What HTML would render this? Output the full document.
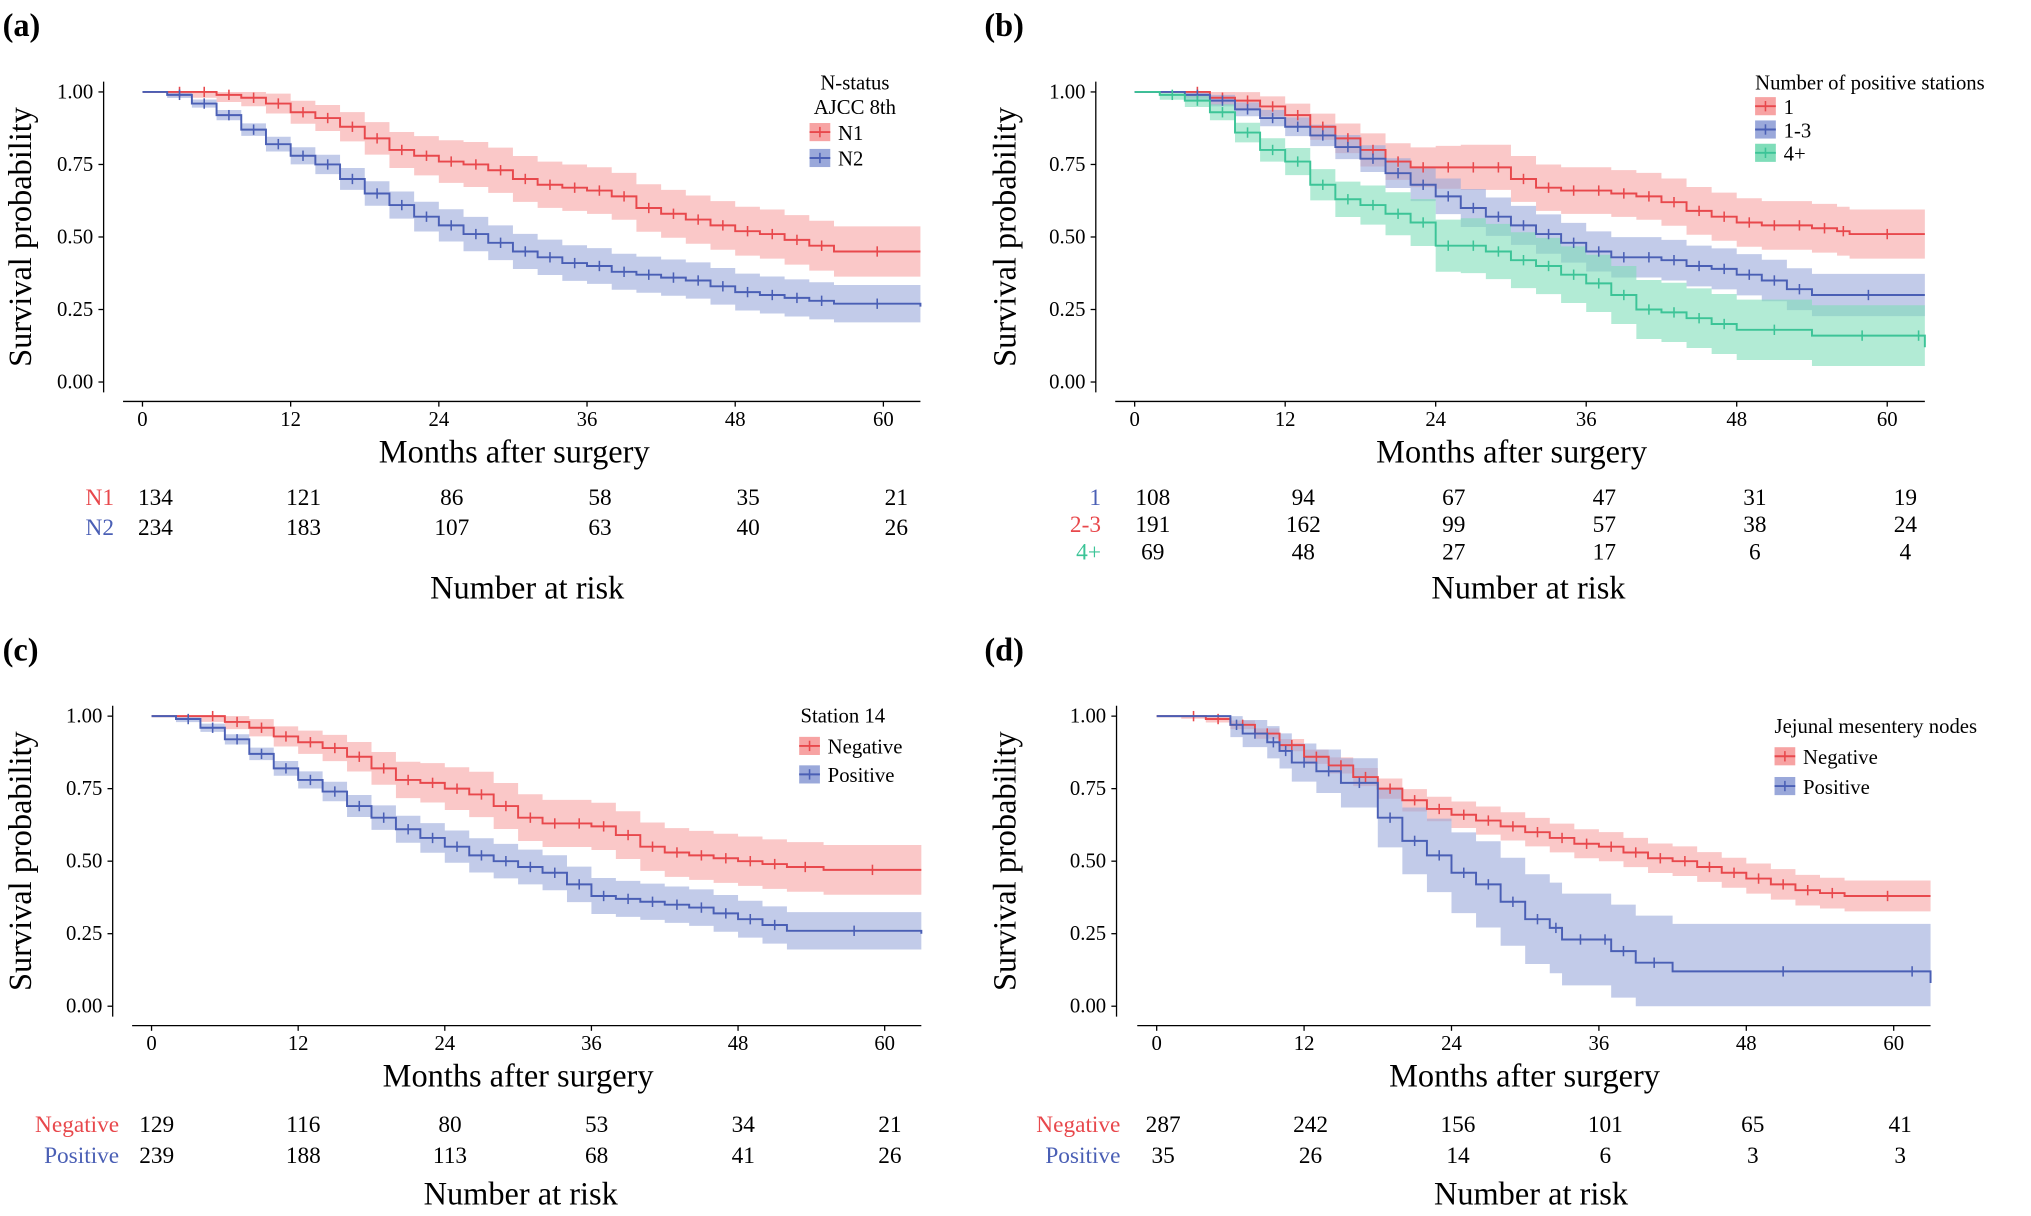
<!DOCTYPE html>
<html><head><meta charset="utf-8">
<style>
html,body{margin:0;padding:0;background:#fff;}
svg{display:block;font-family:"Liberation Serif",serif;}
</style></head>
<body>
<svg id="chart" width="2031" height="1216" viewBox="0 0 1568 939" preserveAspectRatio="none" xmlns="http://www.w3.org/2000/svg"></svg>
<script>
// ---- data ----
const xTicks = [0,12,24,36,48,60];
const yTicks = [0,0.25,0.5,0.75,1];
const yTickLabels = ["0.00","0.25","0.50","0.75","1.00"];

// Panel A
const aN1Time = [0,2,4,6,8,10,12,14,16,18,20,22,24,26,28,30,32,34,36,38,40,42,44,46,48,50,52,54,56,63];
const aN1Surv = [1,1,1,.99,.98,.96,.93,.91,.88,.84,.80,.78,.76,.75,.73,.70,.68,.67,.66,.64,.60,.58,.56,.54,.52,.51,.49,.47,.45,.45];
const aN2Time = [0,2,4,6,8,10,12,14,16,18,20,22,24,26,28,30,32,34,36,38,40,42,44,46,48,50,52,54,56,63];
const aN2Surv = [1,.99,.96,.92,.87,.82,.78,.75,.70,.65,.61,.57,.54,.51,.48,.45,.43,.41,.40,.38,.37,.36,.35,.33,.31,.30,.29,.28,.27,.26];
const aRiskN1 = [134,121,86,58,35,21];
const aRiskN2 = [234,183,107,63,40,26];

// Panel B
const b1Time = [0,4,6,8,10,12,14,16,18,20,22,24,26,28,30,32,34,36,38,40,42,44,46,48,50,52,54,56,57,63];
const b1Surv = [1,1,.98,.97,.95,.92,.88,.84,.80,.76,.74,.74,.74,.74,.70,.67,.66,.66,.65,.64,.62,.59,.57,.55,.54,.54,.53,.52,.51,.51];
const b13Time = [0,4,6,8,10,12,14,16,18,20,22,24,26,28,30,32,34,36,38,40,42,44,46,48,50,52,54,63];
const b13Surv = [1,.99,.97,.94,.91,.88,.85,.81,.77,.72,.68,.64,.60,.57,.54,.51,.48,.45,.43,.43,.42,.40,.39,.37,.35,.32,.30,.30];
const b4Time = [0,2,4,6,8,10,12,14,16,18,20,22,24,26,28,30,32,34,36,38,40,42,44,46,48,54,62,63];
const b4Surv = [1,.99,.97,.93,.86,.80,.76,.68,.63,.61,.58,.55,.47,.47,.45,.42,.40,.37,.34,.30,.25,.24,.22,.20,.18,.16,.16,.12];
const bRisk1 = [108,94,67,47,31,19];
const bRisk23 = [191,162,99,57,38,24];
const bRisk4 = [69,48,27,17,6,4];

// Panel C
const cNegTime = [0,4,6,8,10,12,14,16,18,20,22,24,26,28,30,32,34,36,38,40,42,44,46,48,50,52,55,63];
const cNegSurv = [1,1,.98,.96,.93,.91,.89,.86,.82,.78,.77,.75,.73,.69,.65,.63,.63,.62,.59,.55,.53,.52,.51,.50,.49,.48,.47,.47];
const cPosTime = [0,2,4,6,8,10,12,14,16,18,20,22,24,26,28,30,32,34,36,38,40,42,44,46,48,50,52,63];
const cPosSurv = [1,.99,.96,.92,.87,.82,.78,.74,.69,.65,.61,.58,.55,.52,.50,.48,.46,.42,.38,.37,.36,.35,.34,.32,.30,.28,.26,.25];
const cRiskNeg = [129,116,80,53,34,21];
const cRiskPos = [239,188,113,68,41,26];

// Panel D
const dNegTime = [0,2,4,6,8,10,12,14,16,18,20,22,24,26,28,30,32,34,36,38,40,42,44,46,48,50,52,54,56,63];
const dNegSurv = [1,1,.99,.97,.94,.90,.86,.83,.79,.75,.71,.68,.66,.64,.62,.60,.58,.56,.55,.53,.51,.50,.48,.46,.44,.42,.40,.39,.38,.38];
const dPosTime = [0,6,7,9,10,11,13,15,18,20,22,24,26,28,30,32,33,36,37,39,42,60,63];
const dPosSurv = [1,.97,.94,.91,.88,.84,.81,.77,.65,.57,.52,.46,.42,.36,.30,.27,.23,.23,.19,.15,.12,.12,.08];
const dRiskNeg = [287,242,156,101,65,41];
const dRiskPos = [35,26,14,6,3,3];

// ---- drawing ----
const NS="http://www.w3.org/2000/svg";
const svg=document.getElementById('chart');
const RED="#E8484C", BLUE="#4A5FB5", GREEN="#3CC497";
const REDF="#F7A3A3", BLUEF="#9AA8DA", GREENF="#7FDDB9";
function el(tag,attrs,parent,text){const e=document.createElementNS(NS,tag);for(const k in attrs)e.setAttribute(k,attrs[k]);if(text!==undefined)e.textContent=text;(parent||svg).appendChild(e);return e;}

function panel(p){
  const g=el('g',{});
  
  
  const xs=m=>p.x0+(p.x60-p.x0)*m/60;
  const ys=v=>p.y0+(p.y1-p.y0)*v;
  p.series.forEach(s=>{
    const pts=[];
    for(let i=0;i<s.t.length;i++){
      const hw=s.ci*Math.min(1,0.15+s.t[i]/30)*(1-s.s[i]*0.3);
      const hi=Math.min(1,s.s[i]+hw*(i?1:0)), l=Math.max(0,s.s[i]-hw*(i?1:0));
      pts.push([s.t[i],hi,l]);
    }
    let top=[],bot=[];
    for(let i=0;i<pts.length;i++){
      const xa=xs(pts[i][0]), xb=xs(i+1<pts.length?pts[i+1][0]:pts[i][0]);
      top.push([xa,ys(pts[i][1])],[xb,ys(pts[i][1])]);
      bot.push([xa,ys(pts[i][2])],[xb,ys(pts[i][2])]);
    }
    const d="M"+top.map(q=>q.join(",")).join("L")+"L"+bot.reverse().map(q=>q.join(",")).join("L")+"Z";
    const band=el('path',{d:d,fill:s.fill,'fill-opacity':0.6,stroke:'none'},g);
    
    
  });
  p.series.forEach(s=>{
    let d="M"+xs(s.t[0])+","+ys(s.s[0]);
    for(let i=1;i<s.t.length;i++){d+="H"+xs(s.t[i])+"V"+ys(s.s[i]);}
    const line=el('path',{d:d,fill:'none',stroke:s.col,'stroke-width':1.5},g);
    
    
    for(let i=1;i<s.t.length-1;i++){
      const m=(s.t[i]+s.t[i+1])/2, cx=xs(m), cy=ys(s.s[i]);
      const c=el('path',{d:`M${cx},${cy-4}V${cy+4}`,stroke:s.col,'stroke-width':1.2},g);
      
      
    }
  });
  const ya=el('line',{x1:p.ax,x2:p.ax,y1:ys(1)-8,y2:ys(0)+8,stroke:'#000','stroke-width':1},g);
  
  
  const xa=el('line',{x1:p.x0-15,x2:xs(63),y1:p.axy,y2:p.axy,stroke:'#000','stroke-width':1},g);
  
  
  yTicks.forEach((v,i)=>{
    el('line',{x1:p.ax-4,x2:p.ax,y1:ys(v),y2:ys(v),stroke:'#000'},g);
    const t=el('text',{x:p.ax-8,y:ys(v)+5,'text-anchor':'end','font-size':16},g,yTickLabels[i]);
    
    
  });
  xTicks.forEach(m=>{
    el('line',{x1:xs(m),x2:xs(m),y1:p.axy,y2:p.axy+4,stroke:'#000'},g);
    const t=el('text',{x:xs(m),y:p.axy+19,'text-anchor':'middle','font-size':16},g,m);
    
    
  });
  const xt=el('text',{x:p.xtx,y:p.axy+47,'text-anchor':'middle','font-size':25},g,'Months after surgery');
  
  
  const yt=el('text',{x:0,y:0,'text-anchor':'middle','font-size':25,transform:`translate(${p.ytx},${(ys(0)+ys(1))/2}) rotate(-90)`},g,'Survival probability');
  
  
  const pl=el('text',{x:p.plx,y:p.ply,'font-size':25,'font-weight':'bold'},g,'('+p.id+')');
  
  
  p.legTitle.forEach((tt,i)=>{
    const t=el('text',{x:p.legTx,y:p.legTy+i*19,'text-anchor':p.legAnchor,'font-size':16},g,tt);
    
    
  });
  p.series.forEach((s,i)=>{
    const y=p.legY+i*p.legDy;
    const lg=el('g',{},g);
    
    
    el('rect',{x:p.legX,y:y-8,width:16,height:14,fill:s.fill},lg);
    el('line',{x1:p.legX,x2:p.legX+16,y1:y-1,y2:y-1,stroke:s.col,'stroke-width':1.5},lg);
    el('line',{x1:p.legX+8,x2:p.legX+8,y1:y-5,y2:y+3,stroke:s.col,'stroke-width':1.2},lg);
    el('text',{x:p.legX+22,y:y+5,'font-size':16},lg,s.label);
  });
  p.risk.forEach((r,i)=>{
    const y=p.riskY+i*p.riskDy;
    const lab=el('text',{x:p.riskLx,y:y,'text-anchor':'end','font-size':18,fill:r.col},g,r.label);
    
    
    r.vals.forEach((v,j)=>{
      const t=el('text',{x:xs(xTicks[j])+p.riskOff,y:y,'text-anchor':'middle','font-size':18},g,v);
      
      
    });
  });
  const nr=el('text',{x:p.nrx,y:p.nry,'text-anchor':'middle','font-size':25},g,'Number at risk');
  
  
}

panel({id:'a',x0:110,x60:682,y0:295,y1:71,ax:80,axy:310,xtx:397,ytx:24,plx:2,ply:28,
  legTitle:['N-status','AJCC 8th'],legTx:660,legTy:69,legAnchor:'middle',legX:625,legY:103,legDy:20,
  series:[{name:'n1',label:'N1',t:aN1Time,s:aN1Surv,col:RED,fill:REDF,ci:0.1},
          {name:'n2',label:'N2',t:aN2Time,s:aN2Surv,col:BLUE,fill:BLUEF,ci:0.07}],
  risk:[{label:'N1',col:RED,vals:aRiskN1},{label:'N2',col:BLUE,vals:aRiskN2}],
  riskY:390,riskDy:23,riskLx:88,riskOff:10,nrx:407,nry:462});
panel({id:'b',x0:876,x60:1457,y0:295,y1:71,ax:846,axy:310,xtx:1167,ytx:784,plx:760,ply:28,
  legTitle:['Number of positive stations'],legTx:1355,legTy:69,legAnchor:'start',legX:1355,legY:83,legDy:18,
  series:[{name:'1',label:'1',t:b1Time,s:b1Surv,col:RED,fill:REDF,ci:0.1},
          {name:'1-3',label:'1-3',t:b13Time,s:b13Surv,col:BLUE,fill:BLUEF,ci:0.08},
          {name:'4plus',label:'4+',t:b4Time,s:b4Surv,col:GREEN,fill:GREENF,ci:0.11}],
  risk:[{label:'1',col:BLUE,vals:bRisk1},{label:'2-3',col:RED,vals:bRisk23},{label:'4+',col:GREEN,vals:bRisk4}],
  riskY:390,riskDy:21,riskLx:850,riskOff:14,nrx:1180,nry:462});
panel({id:'c',x0:117,x60:683,y0:777,y1:553,ax:87,axy:792,xtx:400,ytx:24,plx:2,ply:510,
  legTitle:['Station 14'],legTx:618,legTy:558,legAnchor:'start',legX:617,legY:577,legDy:22,
  series:[{name:'negative',label:'Negative',t:cNegTime,s:cNegSurv,col:RED,fill:REDF,ci:0.1},
          {name:'positive',label:'Positive',t:cPosTime,s:cPosSurv,col:BLUE,fill:BLUEF,ci:0.07}],
  risk:[{label:'Negative',col:RED,vals:cRiskNeg},{label:'Positive',col:BLUE,vals:cRiskPos}],
  riskY:874,riskDy:24,riskLx:92,riskOff:4,nrx:402,nry:930});
panel({id:'d',x0:893,x60:1462,y0:777,y1:553,ax:862,axy:792,xtx:1177,ytx:784,plx:760,ply:510,
  legTitle:['Jejunal mesentery nodes'],legTx:1370,legTy:566,legAnchor:'start',legX:1370,legY:585,legDy:23,
  series:[{name:'negative',label:'Negative',t:dNegTime,s:dNegSurv,col:RED,fill:REDF,ci:0.06},
          {name:'positive',label:'Positive',t:dPosTime,s:dPosSurv,col:BLUE,fill:BLUEF,ci:0.17}],
  risk:[{label:'Negative',col:RED,vals:dRiskNeg},{label:'Positive',col:BLUE,vals:dRiskPos}],
  riskY:874,riskDy:24,riskLx:865,riskOff:5,nrx:1182,nry:930});
</script>
</body></html>
